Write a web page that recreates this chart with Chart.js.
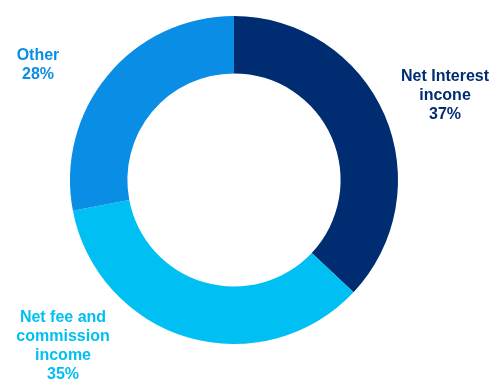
<!DOCTYPE html>
<html>
<head>
<meta charset="utf-8">
<script src="https://cdn.jsdelivr.net/npm/chart.js@4/dist/chart.umd.min.js"></script>
<style>
  html, body { margin: 0; padding: 0; background: #fff; }
  #wrap { width: 494px; height: 380px; }
</style>
</head>
<body>
<div id="wrap"><canvas id="income-chart" width="494" height="380"></canvas></div>
<script>
const categories = ['Net Interest incone', 'Net fee and commission income', 'Other'];
const shares = [37, 35, 28];
const labelLines = [['Net Interest', 'incone', '37%'], ['Net fee and', 'commission', 'income', '35%'], ['Other', '28%']];
const COLORS = ['#002d72', '#00bff2', '#0a8de5'];

// where each label block is centred (first line middle), plus line spacing
const LABEL_POS = [[445, 77], [63, 318], [38, 56]];
const LINE_H = 19;

const labelPlugin = {
  id: 'sliceLabels',
  afterDraw(chart) {
    const ctx = chart.ctx;
    ctx.save();
    ctx.font = 'bold 16px "Liberation Sans", Arial, sans-serif';
    ctx.textAlign = 'center';
    ctx.textBaseline = 'middle';
    labelLines.forEach((lines, i) => {
      ctx.fillStyle = COLORS[i];
      lines.forEach((line, j) => {
        ctx.fillText(line, LABEL_POS[i][0], LABEL_POS[i][1] + j * LINE_H);
      });
    });
    ctx.restore();
  }
};

const config = {
  type: 'doughnut',
  data: {
    labels: categories,
    datasets: [{
      data: shares,
      backgroundColor: COLORS,
      borderWidth: 0,
    }],
  },
  options: {
    responsive: false,
    animation: false,
    cutout: '65%',
    layout: { padding: { top: 16, bottom: 36, left: 70, right: 96 } },
    plugins: {
      legend: { display: false },
      tooltip: { enabled: false },
    },
  },
  plugins: [labelPlugin],
};

new Chart(document.getElementById('income-chart'), config);
</script>
</body>
</html>
